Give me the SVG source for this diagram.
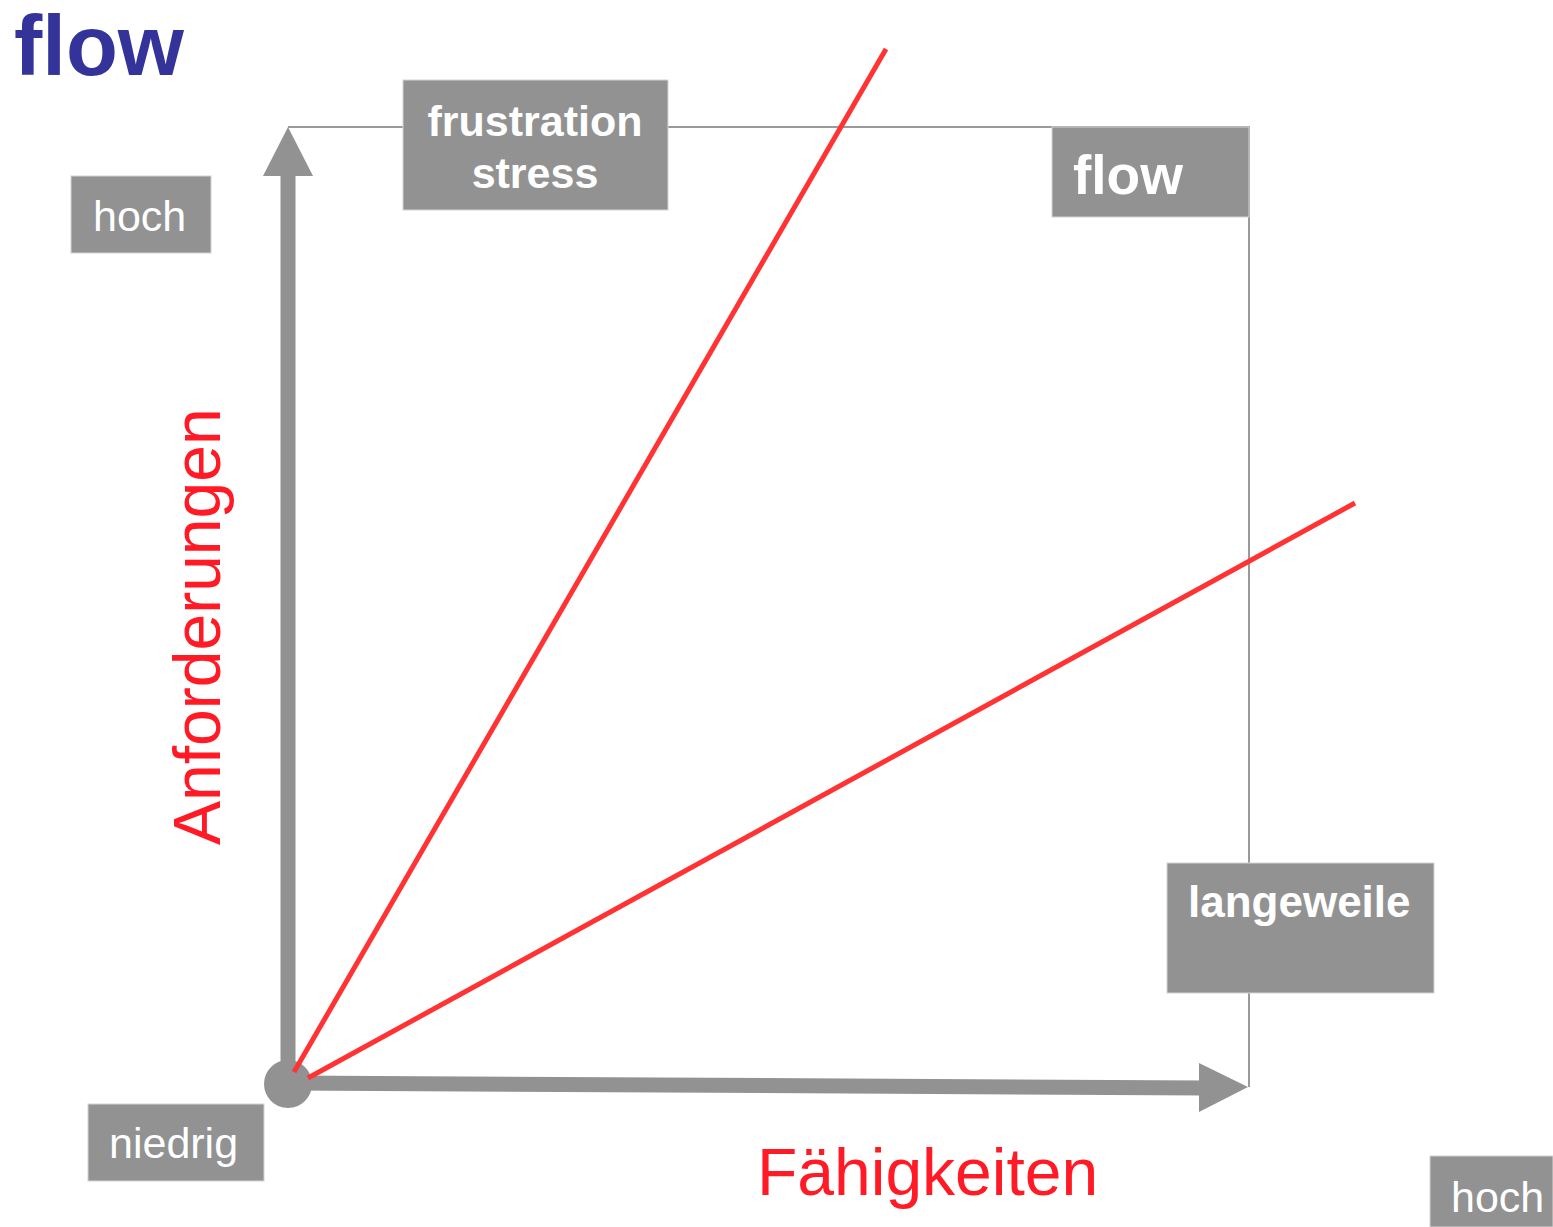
<svg xmlns="http://www.w3.org/2000/svg" width="1553" height="1227" viewBox="0 0 1553 1227">
<style>
.box{fill:#929292;stroke:#d4d4d4;stroke-width:1}
.bl{font-family:"Liberation Sans",Arial,sans-serif;font-weight:bold;fill:#ffffff}
.nl{font-family:"Liberation Sans",Arial,sans-serif;fill:#ffffff;font-size:43px}
.red{font-family:"Liberation Sans",Arial,sans-serif;fill:#ff1a26;font-size:66px}
.frame{fill:none;stroke:#9a9a9a;stroke-width:2}
.axis{stroke:#929292;stroke-width:15;fill:none}
.head{fill:#929292}
.rl{stroke:#ff3333;stroke-width:5;fill:none}
</style>
<rect width="1553" height="1227" fill="#ffffff"/>
<text id="title" x="14" y="75" font-family="'Liberation Sans',Arial,sans-serif" font-weight="bold" font-size="85" fill="#333399">flow</text>
<g id="connectors">
<polyline class="frame" points="288,127 1249,127 1249,1087"/>
<line class="axis" x1="288" y1="1084" x2="288" y2="170"/>
<polygon class="head" points="288,127 263,176 313,176"/>
<line class="axis" x1="288" y1="1083" x2="1205" y2="1088"/>
<polygon class="head" points="1248,1087 1199,1063 1199,1112"/>
<circle cx="288" cy="1084" r="24" fill="#929292"/>
<line class="rl" x1="294" y1="1072" x2="886" y2="49"/>
<line class="rl" x1="308" y1="1078" x2="1355" y2="503"/>
</g>
<g id="frustration">
<rect class="box" x="403" y="80" width="265" height="130"/>
<text class="bl" x="535" y="136" font-size="43" text-anchor="middle">frustration</text>
<text class="bl" x="535" y="188" font-size="43" text-anchor="middle">stress</text>
</g>
<g id="flowbox">
<rect class="box" x="1052" y="127" width="197" height="90"/>
<text class="bl" x="1073" y="194" font-size="55">flow</text>
</g>
<g id="langeweile">
<rect class="box" x="1167" y="863" width="267" height="130"/>
<text class="bl" x="1188" y="917" font-size="44">langeweile</text>
</g>
<g id="hoch-y">
<rect class="box" x="71" y="176" width="140" height="77"/>
<text class="nl" x="93" y="231">hoch</text>
</g>
<g id="niedrig">
<rect class="box" x="88" y="1104" width="176" height="77"/>
<text class="nl" x="109" y="1158">niedrig</text>
</g>
<g id="hoch-x">
<rect class="box" x="1430" y="1156" width="123" height="71"/>
<text class="nl" x="1451" y="1212">hoch</text>
</g>
<g id="anforderungen">
<text class="red" transform="translate(220,845) rotate(-90)">Anforderungen</text>
</g>
<g id="faehigkeiten">
<text class="red" x="757" y="1195">Fähigkeiten</text>
</g>
</svg>
